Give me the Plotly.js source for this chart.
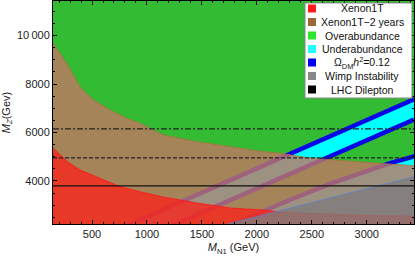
<!DOCTYPE html>
<html><head><meta charset="utf-8">
<script src="https://cdn.plot.ly/plotly-3.0.1.min.js"></script>
<style>html,body{margin:0;padding:0;background:#fff}#chart{width:415px;height:256px}</style>
</head><body><div id="chart"></div>
<script>
// ---- data ----
const xRange = [145, 3430];
const yRange = [2223, 11430];
const xTickVals = [500, 1000, 1500, 2000, 2500, 3000];
const xTickText = ['500', '1000', '1500', '2000', '2500', '3000'];
const yTickVals = [4000, 6000, 8000, 10000];
const yTickText = ['4000', '6000', '8000', '10\u2009000'];

// Xenon1T-2 years upper boundary
const brownX = [145, 270, 391, 512, 664, 815, 936, 1148, 1452, 1755, 2057, 2209, 2418, 2573, 2900, 3200, 3430];
const brownY = [9690, 8860, 7870, 7350, 6930, 6590, 6385, 5900, 5624, 5417, 5211, 5145, 4990, 4910, 4790, 4700, 4630];
// Xenon1T upper boundary
const redX = [145, 276, 391, 573, 755, 936, 1145, 1455, 1755, 2055, 2209, 2391, 2700, 3000, 3430];
const redY = [5364, 4797, 4455, 4124, 3764, 3558, 3339, 3091, 2884, 2802, 2719, 2678, 2620, 2580, 2550];
// Omega h^2 = 0.12 contours
const line1X = [820, 1650, 2236, 2800, 3430];
const line1Y = [2160, 3822, 4992, 6120, 7370];
const line2X = [1220, 2060, 2636, 3430];
const line2Y = [2140, 3822, 4992, 6540];
const line3X = [1760, 2209, 2664, 3191, 3440];
const line3Y = [2140, 3050, 3876, 4702, 5030];
// Wimp instability boundary
const grayX = [1600, 3440];
const grayY = [2066, 4190];
// LHC dilepton bounds
const lhcSolid = 3800, lhcDash = 4950, lhcDashDot = 6150;

const legendLabels = ['Xenon1T', 'Xenon1T\u22122 years', 'Overabundance', 'Underabundance',
  '\u03A9<sub>DM</sub><i>h</i><sup>2</sup>=0.12', 'Wimp Instability', 'LHC Dilepton'];
const legendColors = ['#ff1a1a', '#9a6838', '#2ee62e', '#22ffff', '#0000ee', '#888888', '#000000'];

// ---- traces ----
const traces = [];
traces.push({x: line1X.concat(line2X.slice().reverse()), y: line1Y.concat(line2Y.slice().reverse()),
  mode: 'lines', fill: 'toself', fillcolor: '#00ffff', line: {width: 0}});
traces.push({x: line3X.concat([xRange[1] + 200, line3X[0]]), y: line3Y.concat([yRange[0] - 500, yRange[0] - 500]),
  mode: 'lines', fill: 'toself', fillcolor: '#00ffff', line: {width: 0}});
[[line1X, line1Y], [line2X, line2Y], [line3X, line3Y]].forEach(function (l) {
  traces.push({x: l[0], y: l[1], mode: 'lines', line: {color: '#0606e8', width: 4.5}});
});
traces.push({x: brownX, y: brownY, mode: 'lines', fill: 'tozeroy', fillcolor: 'rgba(194,119,100,0.81)',
  line: {color: 'rgba(175,110,60,1)', width: 0.8}});
traces.push({x: redX, y: redY, mode: 'lines', fill: 'tozeroy', fillcolor: 'rgba(250,35,25,0.78)',
  line: {color: 'rgba(255,20,20,1)', width: 0.8}});
traces.push({x: grayX, y: grayY, mode: 'lines', fill: 'tozeroy', fillcolor: 'rgba(128,124,124,0.8)',
  line: {color: '#5a80c8', width: 0.8}});
traces.push({x: xRange, y: [lhcSolid, lhcSolid], mode: 'lines', line: {color: '#111', width: 1.2}});
traces.push({x: xRange, y: [lhcDash, lhcDash], mode: 'lines', line: {color: '#222', width: 1.2, dash: '4px,2px'}});
traces.push({x: xRange, y: [lhcDashDot, lhcDashDot], mode: 'lines', line: {color: '#222', width: 1.2, dash: '6px,2px,2px,2px'}});

// ---- legend (manual) ----
const W = 415, H = 256, mL = 53, mR = 1, mT = 1, mB = 32;
const pw = W - mL - mR, ph = H - mT - mB;
function px(x) { return (x - mL) / pw; }
function py(y) { return (H - mB - y) / ph; }
const shapes = [{type: 'rect', xref: 'paper', yref: 'paper', x0: px(305), x1: px(412), y0: py(98), y1: py(3),
  fillcolor: '#ffffff', line: {color: '#888', width: 1}}];
const annotations = [];
legendLabels.forEach(function (lab, i) {
  const cy = 8.5 + 13.5 * i;
  shapes.push({type: 'rect', xref: 'paper', yref: 'paper', x0: px(308), x1: px(316), y0: py(cy + 4), y1: py(cy - 4),
    fillcolor: legendColors[i], line: {width: 0}});
  annotations.push({xref: 'paper', yref: 'paper', x: px(362), y: py(cy), text: lab, showarrow: false,
    xanchor: 'center', yanchor: 'middle', font: {family: 'Liberation Sans, Arial', size: 10.5, color: '#111'}});
});

const axisCommon = {showline: true, linecolor: '#000', linewidth: 1, mirror: 'allticks', ticks: 'inside',
  ticklen: 4, tickcolor: '#000', showgrid: false, zeroline: false,
  tickfont: {family: 'Liberation Sans, Arial', size: 11, color: '#222'}};

const layout = {
  width: W, height: H, margin: {l: mL, r: mR, t: mT, b: mB},
  paper_bgcolor: '#fff', plot_bgcolor: '#33bb33', showlegend: false,
  xaxis: Object.assign({}, axisCommon, {range: xRange, tickmode: 'array', tickvals: xTickVals, ticktext: xTickText,
    minor: {dtick: 100, tick0: 0, ticks: 'inside', ticklen: 2, tickcolor: '#000'},
    title: {text: '<i>M</i><sub>N1</sub> (GeV)', font: {family: 'Liberation Sans, Arial', size: 11, color: '#222'}, standoff: 4}}),
  yaxis: Object.assign({}, axisCommon, {range: yRange, tickmode: 'array', tickvals: yTickVals, ticktext: yTickText,
    minor: {dtick: 500, tick0: 0, ticks: 'inside', ticklen: 2, tickcolor: '#000'},
    title: {text: '<i>M</i><sub><i>Z</i></sub>(Gev)', font: {family: 'Liberation Sans, Arial', size: 11, color: '#222'}, standoff: 6}}),
  shapes: shapes, annotations: annotations
};
Plotly.newPlot('chart', traces, layout, {staticPlot: true, displayModeBar: false});
</script></body></html>
